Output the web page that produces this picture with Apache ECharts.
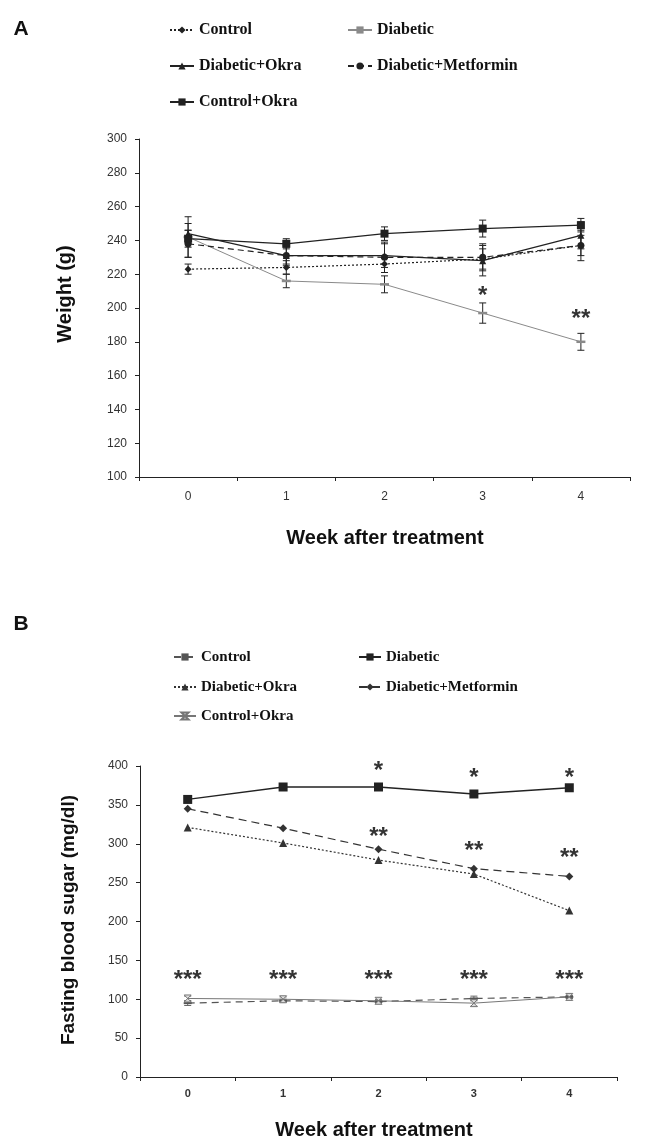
<!DOCTYPE html>
<html>
<head>
<meta charset="utf-8">
<script src="https://cdn.jsdelivr.net/npm/echarts@6/dist/echarts.min.js"></script>
<style>
html,body{margin:0;padding:0;background:#fff;}
#a{position:absolute;left:0;top:0;width:649px;height:570px;}
#b{position:absolute;left:0;top:570px;width:649px;height:571px;}
</style>
</head>
<body>
<div id="a"></div>
<div id="b"></div>
<script>
// ---------- data ----------
const weeks = ['0', '1', '2', '3', '4'];
const groupNames = ['Control', 'Diabetic', 'Diabetic+Okra', 'Diabetic+Metformin', 'Control+Okra'];

// Panel A: body weight (g)
const weightControl = [223, 224, 226, 229, 237];
const weightDiabetic = [242, 216, 214, 197, 180];
const weightDiabeticOkra = [244, 231, 231, 228, 243];
const weightDiabeticMetformin = [238, 231, 230, 230, 237];
const weightControlOkra = [241, 238, 244, 247, 249];
const weightErrControl = [3, 4, 5, 6, 6];
const weightErrDiabetic = [12, 4, 5, 6, 5];
const weightErrDiabeticOkra = [6, 5, 7, 9, 8];
const weightErrDiabeticMetformin = [8, 6, 9, 8, 9];
const weightErrControlOkra = [5, 3, 4, 5, 4];
const sigAWeeks = [3, 4];
const sigAValues = [210, 196];
const sigALabels = ['*', '**'];

// Panel B: fasting blood sugar (mg/dl)
const sugarControl = [95, 98, 97, 101, 103];
const sugarDiabetic = [357, 373, 373, 364, 372];
const sugarDiabeticOkra = [321, 301, 279, 261, 214];
const sugarDiabeticMetformin = [345, 320, 293, 268, 258];
const sugarControlOkra = [101, 100, 98, 95, 103];
const sugarErrControl = [3, 2, 2, 3, 2];
const sugarErrControlOkra = [3, 3, 2, 4, 2];
const sigBWeeks = [2, 3, 4, 2, 3, 4, 0, 1, 2, 3, 4];
const sigBValues = [400, 391, 391, 314, 297, 287, 131, 131, 131, 131, 131];
const sigBLabels = ['*', '*', '*', '**', '**', '**', '***', '***', '***', '***', '***'];

// ---------- helpers ----------
const SANS = 'Liberation Sans, Arial, sans-serif';
const SERIF = 'Liberation Serif, Times New Roman, serif';

function errorSeries(name, vals, errs, color) {
  return {
    type: 'custom',
    name: name + ' error',
    data: vals.map((v, i) => [i, v, errs[i]]),
    z: 3,
    silent: true,
    renderItem: function (params, api) {
      const x = api.value(0), v = api.value(1), e = api.value(2);
      const top = api.coord([x, v + e]);
      const bot = api.coord([x, v - e]);
      const w = 3.5;
      const st = { stroke: color, lineWidth: 1 };
      return {
        type: 'group',
        children: [
          { type: 'line', shape: { x1: top[0], y1: top[1], x2: bot[0], y2: bot[1] }, style: st },
          { type: 'line', shape: { x1: top[0] - w, y1: top[1], x2: top[0] + w, y2: top[1] }, style: st },
          { type: 'line', shape: { x1: bot[0] - w, y1: bot[1], x2: bot[0] + w, y2: bot[1] }, style: st }
        ]
      };
    }
  };
}

function sigSeries(wk, vals, labels, fontSize) {
  return {
    type: 'scatter',
    name: 'significance',
    symbolSize: 0,
    clip: false,
    silent: true,
    z: 10,
    data: wk.map((w, i) => [w, vals[i], labels[i]]),
    label: {
      show: true,
      position: 'inside',
      formatter: p => p.data[2],
      fontFamily: SANS,
      fontWeight: 'bold',
      fontSize: fontSize,
      color: '#000',
      textBorderWidth: 0,
      offset: [0, 5]
    }
  };
}

function legends(positions, fontSize, itemWidth) {
  return positions.map(p => ({
    data: [p.name],
    left: p.left,
    top: p.top,
    padding: 0,
    itemWidth: itemWidth,
    itemHeight: 9,
    selectedMode: false,
    textStyle: { fontFamily: SERIF, fontWeight: 'bold', fontSize: fontSize, color: '#111', lineHeight: 18 }
  }));
}

function lineSeries(name, vals, opt) {
  return {
    type: 'line',
    name: name,
    data: vals,
    z: 4,
    symbol: opt.symbol,
    symbolSize: opt.size,
    showSymbol: opt.symbol !== 'none',
    lineStyle: { color: opt.color, width: opt.width || 1.2, type: opt.type || 'solid' },
    itemStyle: { color: opt.fill || opt.color, borderColor: opt.color, borderWidth: opt.border || 0 },
    emphasis: { disabled: true }
  };
}

function axisX(labelFont) {
  return {
    type: 'category',
    data: weeks,
    boundaryGap: true,
    axisLine: { lineStyle: { color: '#222', width: 1 } },
    axisTick: { show: true, length: 4, lineStyle: { color: '#222' } },
    axisLabel: Object.assign({ color: '#333', fontFamily: SANS, margin: 10 }, labelFont),
    splitLine: { show: false }
  };
}

function axisY(min, max, interval) {
  return {
    type: 'value',
    min: min, max: max, interval: interval,
    axisLine: { show: true, lineStyle: { color: '#222', width: 1 } },
    axisTick: { show: true, length: 4, lineStyle: { color: '#222' } },
    axisLabel: { color: '#333', fontFamily: SANS, fontSize: 12, margin: 12 },
    splitLine: { show: false }
  };
}

function titleText(text, x, y, rot, size) {
  return {
    type: 'text', x: x, y: y, rotation: rot || 0,
    style: { text: text, font: 'bold ' + size + 'px ' + SANS, fill: '#111', align: 'center', verticalAlign: 'middle' }
  };
}

// ---------- Panel A ----------
const chartA = echarts.init(document.getElementById('a'), null, { renderer: 'canvas' });
chartA.setOption({
  animation: false,
  backgroundColor: '#fff',
  grid: { left: 139, top: 139, width: 491, height: 338 },
  xAxis: axisX({ fontSize: 12, margin: 14 }),
  yAxis: axisY(100, 300, 20),
  legend: legends([
    { name: groupNames[0], left: 169, top: 21 },
    { name: groupNames[1], left: 347, top: 21 },
    { name: groupNames[2], left: 169, top: 57 },
    { name: groupNames[3], left: 347, top: 57 },
    { name: groupNames[4], left: 169, top: 93 }
  ], 16, 24),
  graphic: [
    titleText('A', 21, 29, 0, 21),
    titleText('Weight (g)', 65, 294, Math.PI / 2, 20),
    titleText('Week after treatment', 385, 538, 0, 20)
  ],
  series: [
    lineSeries(groupNames[0], weightControl, { symbol: 'diamond', size: 7, color: '#222', type: [2, 2] }),
    lineSeries(groupNames[1], weightDiabetic, { symbol: 'rect', size: [9, 2.5], color: '#8a8a8a', width: 1 }),
    lineSeries(groupNames[2], weightDiabeticOkra, { symbol: 'triangle', size: 7, color: '#222' }),
    lineSeries(groupNames[3], weightDiabeticMetformin, { symbol: 'circle', size: 7, color: '#222', type: [6, 4] }),
    lineSeries(groupNames[4], weightControlOkra, { symbol: 'rect', size: 8, color: '#222' }),
    errorSeries(groupNames[0], weightControl, weightErrControl, '#222'),
    errorSeries(groupNames[1], weightDiabetic, weightErrDiabetic, '#222'),
    errorSeries(groupNames[2], weightDiabeticOkra, weightErrDiabeticOkra, '#222'),
    errorSeries(groupNames[3], weightDiabeticMetformin, weightErrDiabeticMetformin, '#222'),
    errorSeries(groupNames[4], weightControlOkra, weightErrControlOkra, '#222'),
    sigSeries(sigAWeeks, sigAValues, sigALabels, 24)
  ]
});

// ---------- Panel B ----------
const chartB = echarts.init(document.getElementById('b'), null, { renderer: 'canvas' });
chartB.setOption({
  animation: false,
  backgroundColor: '#fff',
  grid: { left: 140, top: 196, width: 477, height: 311 },
  xAxis: axisX({ fontSize: 11, fontWeight: 'bold', margin: 11 }),
  yAxis: axisY(0, 400, 50),
  legend: legends([
    { name: groupNames[0], left: 173, top: 78 },
    { name: groupNames[1], left: 358, top: 78 },
    { name: groupNames[2], left: 173, top: 108 },
    { name: groupNames[3], left: 358, top: 108 },
    { name: groupNames[4], left: 173, top: 137 }
  ], 15, 22),
  graphic: [
    titleText('B', 21, 54, 0, 21),
    titleText('Fasting blood sugar (mg/dl)', 69, 350, Math.PI / 2, 19),
    titleText('Week after treatment', 374, 560, 0, 20)
  ],
  series: [
    lineSeries(groupNames[0], sugarControl, { symbol: 'rect', size: [8, 2], color: '#555', width: 1.2, type: [7, 5] }),
    lineSeries(groupNames[1], sugarDiabetic, { symbol: 'rect', size: 9, color: '#222', width: 1.3 }),
    lineSeries(groupNames[2], sugarDiabeticOkra, { symbol: 'triangle', size: 8, color: '#333', type: [2, 2] }),
    lineSeries(groupNames[3], sugarDiabeticMetformin, { symbol: 'diamond', size: 8, color: '#333', type: [8, 5] }),
    lineSeries(groupNames[4], sugarControlOkra, { symbol: 'path://M0,0 L10,0 L0,10 L10,10 Z', size: 7, color: '#777', fill: '#ddd', border: 1, width: 1 }),
    errorSeries(groupNames[0], sugarControl, sugarErrControl, '#666'),
    errorSeries(groupNames[4], sugarControlOkra, sugarErrControlOkra, '#666'),
    sigSeries(sigBWeeks, sigBValues, sigBLabels, 24)
  ]
});
</script>
</body>
</html>
